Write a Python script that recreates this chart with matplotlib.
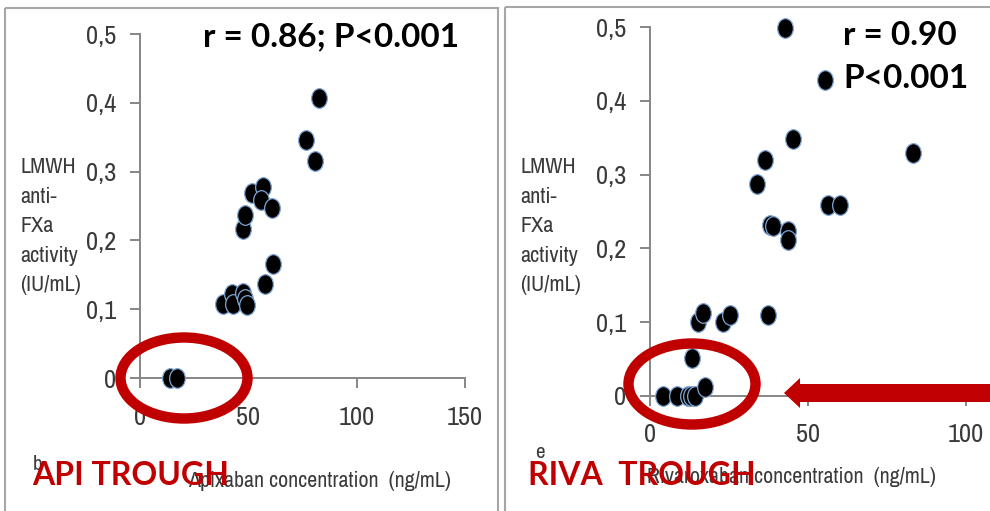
import matplotlib
matplotlib.use("Agg")
import matplotlib.pyplot as plt
from matplotlib import font_manager
from matplotlib.markers import MarkerStyle
from matplotlib.transforms import Affine2D
from matplotlib.patches import Ellipse, FancyArrow, Rectangle
from matplotlib.ticker import FuncFormatter

# data
api_x = [14, 17, 38.4, 42.3, 43, 47.7, 48.4, 49.2, 57.6, 61.4,
         47.6, 48.4, 51.5, 56.8, 56, 60.7, 76.8, 80.6, 82.6]
api_y = [0, 0, 0.108, 0.122, 0.108, 0.123, 0.115, 0.106, 0.137, 0.166,
         0.217, 0.237, 0.269, 0.278, 0.259, 0.247, 0.346, 0.315, 0.407]

riva_x = [4.2, 8.4, 12, 13, 14.2, 17.4, 13.2, 15.3, 16.9, 23.2, 25.3, 37.4,
          33.8, 36.4, 38, 39, 43.8, 43.8, 45.4, 42.7, 55.4, 56.4, 60.1, 83.3]
riva_y = [0, 0, 0, 0, 0, 0.012, 0.051, 0.10, 0.112, 0.10, 0.11, 0.11,
          0.288, 0.320, 0.232, 0.230, 0.223, 0.211, 0.349, 0.499, 0.428, 0.259, 0.259, 0.329]

y_ticks = [0, 0.1, 0.2, 0.3, 0.4, 0.5]
api_xticks = [0, 50, 100, 150]
riva_xticks = [0, 50, 100]

ylab = "LMWH\nanti-\nFXa\nactivity\n(IU/mL)"

# look for a narrow sans font, otherwise plain Liberation Sans
fonts = font_manager.fontManager.ttflist
names = {f.name for f in fonts}
narrow, stretch, k = "Liberation Sans", "normal", 0.74
if "Liberation Sans Narrow" in names:
    narrow, k = "Liberation Sans Narrow", 0.95
else:
    cond = [f.name for f in fonts if "Condensed" in f.name or "Narrow" in f.name]
    dj = [f for f in fonts if f.name == "DejaVu Sans" and "ondensed" in f.fname]
    if cond:
        narrow, k = sorted(cond)[0], 1.0
    elif dj:
        narrow, stretch, k = "DejaVu Sans", "condensed", 0.8

RED = "#c00000"
GRAY = "#868686"
TXT = "#3a3a3a"

fig = plt.figure(figsize=(9.9, 5.11), dpi=100)

dot = MarkerStyle("o", transform=Affine2D().scale(0.8, 1.0))


def comma(v, pos):
    if v == 0:
        return "0"
    return ("%.1f" % v).replace(".", ",")


def setup(ax, xt, xmax):
    ax.set_xlim(0, xmax)
    ax.set_ylim(0, 0.5)
    ax.set_xticks(xt)
    ax.set_yticks(y_ticks)
    ax.yaxis.set_major_formatter(FuncFormatter(comma))
    for s in ["top", "right"]:
        ax.spines[s].set_visible(False)
    for s in ["left", "bottom"]:
        ax.spines[s].set_color(GRAY)
        ax.spines[s].set_linewidth(1.4)
    ax.tick_params(axis="both", direction="out", length=7, width=1.4,
                   color=GRAY, labelcolor=TXT, labelsize=19 * k)
    ax.tick_params(axis="y", pad=10)
    ax.tick_params(axis="x", pad=13)
    for lab in ax.get_xticklabels() + ax.get_yticklabels():
        lab.set_fontfamily(narrow)
        lab.set_fontstretch(stretch)
    ax.patch.set_alpha(0)


ax1 = fig.add_axes([140 / 990, 133 / 511, 325 / 990, 344 / 511])
setup(ax1, api_xticks, 150)
ax1.scatter(api_x, api_y, s=200, marker=dot, c="black",
            edgecolors="#7fa6d6", linewidths=0.9, clip_on=False, zorder=3)

ax2 = fig.add_axes([650 / 990, 115.3 / 511, 379 / 990, 368.4 / 511])
setup(ax2, riva_xticks, 120)
ax2.scatter(riva_x, riva_y, s=200, marker=dot, c="black",
            edgecolors="#7fa6d6", linewidths=0.9, clip_on=False, zorder=3)

# overlay in pixel coordinates for frames, circles, arrow and text
ov = fig.add_axes([0, 0, 1, 1], zorder=10)
ov.set_xlim(0, 990)
ov.set_ylim(511, 0)
ov.axis("off")

ov.add_patch(Rectangle((5, 8), 493, 520, fill=False, ec="#a6a6a6", lw=1.5))
ov.add_patch(Rectangle((505, 7), 520, 520, fill=False, ec="#a6a6a6", lw=1.5))

ov.add_patch(Ellipse((184, 378), 127, 81, fill=False, ec=RED, lw=7.5))
ov.add_patch(Ellipse((692, 384), 127, 81, fill=False, ec=RED, lw=7.5))
ov.add_patch(FancyArrow(995, 393, -211, 0, width=18, head_width=30,
                        head_length=16, length_includes_head=True,
                        color=RED, lw=0))

for x0 in (20, 520):
    ov.text(x0, 157, ylab, ha="left", va="top", fontsize=16 * k,
            family=narrow, stretch=stretch, color=TXT, linespacing=1.6)

ov.text(319, 487, "Apixaban concentration  (ng/mL)", ha="center",
        va="baseline", fontsize=15.8 * k, family=narrow, stretch=stretch,
        color=TXT)
ov.text(791, 483, "Rivaroxaban concentration  (ng/mL)", ha="center",
        va="baseline", fontsize=15.8 * k, family=narrow, stretch=stretch,
        color=TXT)
ov.text(33, 470, "b", ha="left", va="baseline", fontsize=15 * k,
        family=narrow, stretch=stretch, color=TXT)
ov.text(535, 458, "e", ha="left", va="baseline", fontsize=15 * k,
        family=narrow, stretch=stretch, color=TXT)

ov.text(203, 46, "r = 0.86; P<0.001", ha="left", va="baseline",
        fontsize=24, family="Lato", weight="bold", color="black")
ov.text(843, 45, "r = 0.90", ha="left", va="baseline",
        fontsize=24, family="Lato", weight="bold", color="black")
ov.text(843, 88, "P<0.001", ha="left", va="baseline",
        fontsize=24, family="Lato", weight="bold", color="black")

ov.text(32, 485, "API TROUGH", ha="left", va="baseline",
        fontsize=23, family="Lato", weight="bold", color=RED)
ov.text(528, 485, "RIVA  TROUGH", ha="left", va="baseline",
        fontsize=23, family="Lato", weight="bold", color=RED)

fig.savefig("out.png", dpi=100)
